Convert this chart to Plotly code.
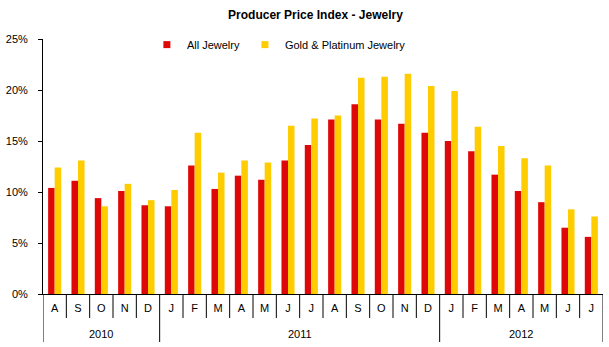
import plotly.graph_objects as go

months = ["A", "S", "O", "N", "D",
          "J", "F", "M", "A", "M", "J", "J", "A", "S", "O", "N", "D",
          "J", "F", "M", "A", "M", "J", "J"]
years = ["2010", "2011", "2012"]
year_counts = [5, 12, 7]
all_jewelry = [10.4, 11.1, 9.4, 10.1, 8.7,
               8.6, 12.6, 10.3, 11.6, 11.2, 13.1, 14.6, 17.1, 18.6, 17.1, 16.7, 15.8,
               15.0, 14.0, 11.7, 10.1, 9.0, 6.5, 5.6]
gold_platinum = [12.4, 13.1, 8.6, 10.8, 9.2,
                 10.2, 15.8, 11.9, 13.1, 12.9, 16.5, 17.2, 17.5, 21.2, 21.3, 21.6, 20.4,
                 19.9, 16.4, 14.5, 13.3, 12.6, 8.3, 7.6]
y_ticks = [0, 5, 10, 15, 20, 25]

RED = "#DF0808"
GOLD = "#FFCC00"
FONT = "Liberation Sans, Arial, sans-serif"

idx = list(range(len(months)))

fig = go.Figure()
fig.add_trace(go.Bar(x=idx, y=all_jewelry, name="All Jewelry", marker_color=RED,
                     marker_line_width=0, showlegend=False))
fig.add_trace(go.Bar(x=idx, y=gold_platinum, name="Gold & Platinum Jewelry", marker_color=GOLD,
                     marker_line_width=0, showlegend=False))
# legend entries with small square swatches
fig.add_trace(go.Scatter(x=[None], y=[None], mode="markers", name="All Jewelry",
                         marker=dict(symbol="square", size=7, color=RED)))
fig.add_trace(go.Scatter(x=[None], y=[None], mode="markers", name="Gold & Platinum Jewelry",
                         marker=dict(symbol="square", size=7, color=GOLD)))

shapes = []
# category divider lines below the axis
year_bounds = [-0.5]
acc = -0.5
for c in year_counts:
    acc += c
    year_bounds.append(acc)
for i in range(len(months) + 1):
    xpos = i - 0.5
    long_line = any(abs(xpos - b) < 1e-9 for b in year_bounds)
    shapes.append(dict(type="line", xref="x", yref="paper", ysizemode="pixel", yanchor=0,
                       x0=xpos, x1=xpos, y0=0, y1=-48 if long_line else -24,
                       line=dict(color="black", width=1)))

annotations = []
start = 0
for yr, c in zip(years, year_counts):
    center = start + (c - 1) / 2
    annotations.append(dict(text=yr, x=center, xref="x", y=0, yref="paper", yshift=-40,
                            showarrow=False, yanchor="middle",
                            font=dict(family=FONT, size=11, color="black")))
    start += c

fig.update_layout(
    width=609, height=347,
    margin=dict(l=43, r=6, t=39, b=53),
    paper_bgcolor="white", plot_bgcolor="white",
    barmode="group", bargap=0.44, bargroupgap=0,
    font=dict(family=FONT, size=11, color="black"),
    title=dict(text="<b>Producer Price Index - Jewelry</b>", x=0.518, xanchor="center",
               y=0.957, yanchor="middle", font=dict(family=FONT, size=12, color="black")),
    legend=dict(orientation="h", x=0.1855, xanchor="left", y=0.978, yanchor="middle",
                font=dict(family=FONT, size=11), bgcolor="rgba(0,0,0,0)", itemwidth=30),
    shapes=shapes, annotations=annotations,
    xaxis=dict(range=[-0.5, len(months) - 0.5], tickvals=idx, ticktext=months,
               showline=True, linecolor="black", linewidth=1, ticks="", showgrid=False,
               zeroline=False, tickfont=dict(family=FONT, size=11), ticklabelstandoff=4),
    yaxis=dict(range=[0, 25], tickvals=y_ticks, ticktext=[f"{v}%" for v in y_ticks],
               showline=True, linecolor="black", linewidth=1, ticks="outside", ticklen=4,
               tickcolor="black", showgrid=False, zeroline=False,
               tickfont=dict(family=FONT, size=11), ticklabelstandoff=8),
)

fig.write_html("out.html")
